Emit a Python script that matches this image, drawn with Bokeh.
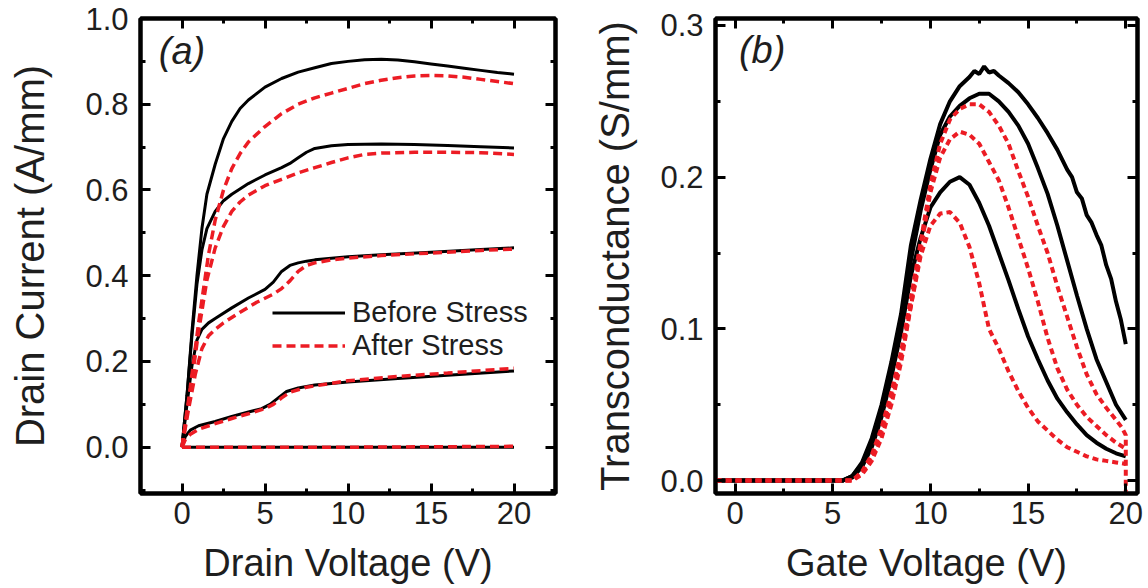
from bokeh.plotting import figure
from bokeh.layouts import row
from bokeh.models import (LinearAxis, SingleIntervalTicker, Range1d, Label,
                          Legend, LegendItem, PrintfTickFormatter, CustomJSTickFormatter)
from bokeh.embed import file_html
from bokeh.resources import INLINE

# ---------------- Panel (a): output characteristics ----------------
vd_b1 = [0, 0.3, 0.6, 0.9, 1.2, 1.5, 2, 2.5, 3, 3.5, 4, 5, 6, 7, 8, 9, 10, 11, 12, 13, 14, 15, 16, 17, 18, 19, 20]
id_b1 = [0, 0.12, 0.27, 0.40, 0.51, 0.59, 0.66, 0.72, 0.76, 0.79, 0.81, 0.84, 0.86, 0.875, 0.885, 0.895, 0.90, 0.904, 0.905, 0.903, 0.899, 0.894, 0.889, 0.884, 0.879, 0.874, 0.870]
vd_a1 = [0, 0.5, 1, 1.3, 1.6, 2, 2.5, 3, 3.5, 4, 5, 6, 7, 8, 9, 10, 11, 12, 13, 14, 15, 16, 17, 18, 19, 20]
id_a1 = [0, 0.14, 0.29, 0.37, 0.45, 0.53, 0.60, 0.65, 0.685, 0.712, 0.748, 0.778, 0.80, 0.815, 0.826, 0.837, 0.848, 0.856, 0.862, 0.866, 0.867, 0.866, 0.863, 0.858, 0.853, 0.848]

vd_b2 = [0, 0.3, 0.6, 0.9, 1.2, 1.5, 2, 2.5, 3, 4, 5, 6, 6.5, 7, 7.5, 8, 9, 10, 12, 14, 16, 18, 20]
id_b2 = [0, 0.12, 0.26, 0.38, 0.46, 0.51, 0.55, 0.575, 0.59, 0.615, 0.635, 0.652, 0.662, 0.675, 0.688, 0.697, 0.703, 0.706, 0.707, 0.706, 0.704, 0.701, 0.698]
vd_a2 = [0, 0.5, 1, 1.5, 2, 2.5, 3, 3.5, 4, 5, 6, 7, 8, 9, 10, 11, 12, 14, 16, 18, 20]
id_a2 = [0, 0.13, 0.27, 0.39, 0.465, 0.515, 0.55, 0.572, 0.588, 0.61, 0.625, 0.64, 0.652, 0.664, 0.675, 0.683, 0.686, 0.688, 0.688, 0.687, 0.683]

vd_b3 = [0, 0.3, 0.6, 0.9, 1.2, 1.6, 2, 3, 4, 5, 5.5, 6, 6.5, 7, 7.5, 8, 10, 12, 15, 18, 20]
id_b3 = [0, 0.1, 0.19, 0.25, 0.275, 0.29, 0.30, 0.325, 0.348, 0.368, 0.385, 0.41, 0.424, 0.43, 0.434, 0.437, 0.444, 0.449, 0.455, 0.461, 0.465]
vd_a3 = [0, 0.4, 0.8, 1.2, 1.6, 2, 2.5, 3.5, 4.5, 5.5, 6, 6.5, 7, 7.5, 8, 9, 10, 12, 15, 18, 20]
id_a3 = [0, 0.09, 0.17, 0.23, 0.26, 0.275, 0.29, 0.315, 0.338, 0.357, 0.37, 0.388, 0.41, 0.424, 0.43, 0.437, 0.441, 0.447, 0.453, 0.459, 0.462]

vd_b4 = [0, 0.2, 0.5, 1, 2, 3, 4, 4.8, 5.3, 5.8, 6.3, 7, 8, 10, 13, 16, 20]
id_b4 = [0, 0.025, 0.04, 0.05, 0.06, 0.072, 0.082, 0.09, 0.1, 0.115, 0.13, 0.138, 0.145, 0.152, 0.16, 0.168, 0.178]
vd_a4 = [0, 0.2, 0.5, 1, 2, 3, 4, 5, 5.5, 6, 6.5, 7.5, 10, 13, 16, 20]
id_a4 = [0, 0.018, 0.03, 0.042, 0.055, 0.067, 0.078, 0.09, 0.1, 0.115, 0.128, 0.14, 0.155, 0.165, 0.173, 0.184]

vd_b5 = [0, 20]
id_b5 = [0, 0]
vd_a5 = [0, 10, 20]
id_a5 = [0, 0, 0.002]

# ---------------- Panel (b): transconductance ----------------
vg_b1 = [-1, 5.5, 6.0, 6.5, 7.0, 7.5, 8.0, 8.5, 9.0, 9.5, 10.0, 10.5, 11.0, 11.5, 12.0, 12.25, 12.5, 12.75, 13.0, 13.25, 13.5, 14.0, 14.5, 15.0, 15.5, 16.0, 16.5, 17.0, 17.25, 17.5, 17.75, 18.0, 18.25, 18.5, 18.75, 19.0, 19.25, 19.5, 19.75, 20.0]
gm_b1 = [0, 0, 0.003, 0.012, 0.028, 0.05, 0.078, 0.11, 0.155, 0.185, 0.212, 0.235, 0.25, 0.26, 0.266, 0.27, 0.268, 0.273, 0.269, 0.27, 0.267, 0.262, 0.256, 0.248, 0.239, 0.229, 0.218, 0.205, 0.2, 0.19, 0.186, 0.175, 0.17, 0.162, 0.155, 0.142, 0.133, 0.118, 0.106, 0.09]
vg_b2 = [-1, 5.5, 6.0, 6.5, 7.0, 7.5, 8.0, 8.5, 9.0, 9.5, 10.0, 10.5, 11.0, 11.5, 12.0, 12.5, 13.0, 13.5, 14.0, 14.5, 15.0, 15.5, 16.0, 16.5, 17.0, 17.5, 18.0, 18.5, 19.0, 19.5, 20.0]
gm_b2 = [0, 0, 0.003, 0.011, 0.026, 0.048, 0.075, 0.105, 0.145, 0.178, 0.205, 0.228, 0.24, 0.247, 0.252, 0.255, 0.255, 0.25, 0.243, 0.234, 0.222, 0.206, 0.189, 0.168, 0.145, 0.122, 0.1, 0.08, 0.065, 0.05, 0.04]
vg_b3 = [-1, 5.5, 6.0, 6.5, 7.0, 7.5, 8.0, 8.5, 9.0, 9.5, 10.0, 10.5, 11.0, 11.5, 12.0, 12.5, 13.0, 13.5, 14.0, 14.5, 15.0, 15.5, 16.0, 16.5, 17.0, 17.5, 18.0, 18.5, 19.0, 19.5, 20.0]
gm_b3 = [0, 0, 0.002, 0.009, 0.022, 0.042, 0.068, 0.098, 0.135, 0.16, 0.18, 0.19, 0.197, 0.2, 0.195, 0.183, 0.168, 0.15, 0.132, 0.113, 0.095, 0.08, 0.066, 0.054, 0.045, 0.037, 0.03, 0.025, 0.021, 0.018, 0.016]

vg_a1 = [-1, 6.0, 6.5, 7.0, 7.5, 8.0, 8.5, 9.0, 9.5, 10.0, 10.5, 11.0, 11.5, 12.0, 12.5, 13.0, 13.5, 14.0, 14.5, 15.0, 15.5, 16.0, 16.5, 17.0, 17.5, 18.0, 18.5, 19.0, 19.5, 19.8, 20.0, 20.0]
gm_a1 = [0, 0, 0.006, 0.017, 0.035, 0.058, 0.085, 0.12, 0.157, 0.195, 0.222, 0.238, 0.245, 0.248, 0.248, 0.243, 0.234, 0.222, 0.204, 0.187, 0.168, 0.15, 0.128, 0.108, 0.088, 0.07, 0.057, 0.048, 0.04, 0.035, 0.03, -0.01]
vg_a2 = [-1, 6.0, 6.5, 7.0, 7.5, 8.0, 8.5, 9.0, 9.5, 10.0, 10.5, 11.0, 11.5, 12.0, 12.5, 13.0, 13.5, 14.0, 14.5, 15.0, 15.5, 16.0, 16.5, 17.0, 17.5, 18.0, 18.5, 19.0, 19.5, 20.0]
gm_a2 = [0, 0, 0.005, 0.015, 0.032, 0.055, 0.082, 0.115, 0.152, 0.19, 0.213, 0.225, 0.23, 0.228, 0.222, 0.21, 0.198, 0.18, 0.16, 0.14, 0.118, 0.094, 0.074, 0.06, 0.05, 0.042, 0.036, 0.03, 0.025, 0.021]
vg_a3 = [-1, 6.0, 6.5, 7.0, 7.5, 8.0, 8.5, 9.0, 9.5, 10.0, 10.5, 11.0, 11.5, 12.0, 12.5, 13.0, 13.5, 14.0, 14.5, 15.0, 15.5, 16.0, 16.5, 17.0, 17.5, 18.0, 18.5, 19.0, 19.5, 20.0]
gm_a3 = [0, 0, 0.004, 0.013, 0.028, 0.05, 0.078, 0.115, 0.148, 0.168, 0.176, 0.177, 0.17, 0.154, 0.13, 0.1, 0.087, 0.072, 0.059, 0.048, 0.039, 0.033, 0.027, 0.022, 0.019, 0.016, 0.014, 0.013, 0.012, 0.011]

legend_labels = ["Before Stress", "After Stress"]
panel_labels = ["(a)", "(b)"]
x_titles = ["Drain Voltage (V)", "Gate Voltage (V)"]
y_titles = ["Drain Current (A/mm)", "Transconductance (S/mm)"]

FONT = "Liberation Sans"
BLACK = "#000000"
RED = "#ec1c24"
TXT = "#1e1e1e"


def style_axis(ax, show_labels):
    ax.axis_line_width = 4
    ax.axis_line_color = BLACK
    ax.major_tick_in = 10
    ax.major_tick_out = 0
    ax.minor_tick_in = 5
    ax.minor_tick_out = 0
    ax.major_tick_line_width = 3
    ax.minor_tick_line_width = 3
    ax.major_tick_line_color = BLACK
    ax.minor_tick_line_color = BLACK
    ax.major_label_text_font = FONT
    ax.major_label_text_color = TXT
    ax.axis_label_text_font = FONT
    ax.axis_label_text_font_style = "normal"
    ax.axis_label_text_color = TXT
    if show_labels:
        ax.major_label_text_font_size = "31px"
    else:
        ax.formatter = CustomJSTickFormatter(code="return ''")
        ax.major_label_text_font_size = "0px"
        ax.major_label_standoff = 0


def make_fig(width, xr, yr, xint, yint, left, right, bottom, xlabel, ylabel, ylab_standoff):
    p = figure(width=width, height=588, output_backend="svg", toolbar_location=None,
               x_range=Range1d(*xr), y_range=Range1d(*yr), x_axis_type=None, y_axis_type=None,
               min_border_left=left, min_border_right=right, min_border_top=18,
               min_border_bottom=bottom)
    p.background_fill_color = "white"
    p.border_fill_color = "white"
    p.outline_line_color = BLACK
    p.outline_line_width = 4
    p.grid.visible = False
    xb = LinearAxis(ticker=SingleIntervalTicker(interval=xint, num_minor_ticks=2), axis_label=xlabel)
    style_axis(xb, True)
    xb.major_label_standoff = 8
    xb.axis_label_text_font_size = "38px"
    xb.axis_label_standoff = 15
    p.add_layout(xb, "below")
    xa = LinearAxis(ticker=SingleIntervalTicker(interval=xint, num_minor_ticks=2))
    style_axis(xa, False)
    p.add_layout(xa, "above")
    yl = LinearAxis(ticker=SingleIntervalTicker(interval=yint, num_minor_ticks=2),
                    axis_label=ylabel, formatter=PrintfTickFormatter(format="%.1f"))
    style_axis(yl, True)
    yl.major_label_standoff = 12
    yl.axis_label_text_font_size = "40px"
    yl.axis_label_standoff = ylab_standoff
    p.add_layout(yl, "left")
    yr_ax = LinearAxis(ticker=SingleIntervalTicker(interval=yint, num_minor_ticks=2))
    style_axis(yr_ax, False)
    p.add_layout(yr_ax, "right")
    return p


# ---- panel a
pa = make_fig(590, (-2.5, 22.5), (-0.108, 1.0), 5, 0.2, 140, 35, 91,
              x_titles[0], y_titles[0], 30)
before = [(vd_b1, id_b1), (vd_b2, id_b2), (vd_b3, id_b3), (vd_b4, id_b4), (vd_b5, id_b5)]
after = [(vd_a1, id_a1), (vd_a2, id_a2), (vd_a3, id_a3), (vd_a4, id_a4), (vd_a5, id_a5)]
rb = None
ra = None
for x, y in before:
    r = pa.line(x, y, line_color=BLACK, line_width=3)
    rb = rb or r
for x, y in after:
    r = pa.line(x, y, line_color=RED, line_width=3.5, line_dash="9 5")
    ra = ra or r
leg = Legend(items=[LegendItem(label=legend_labels[0], renderers=[rb]),
                    LegendItem(label=legend_labels[1], renderers=[ra])],
             location=(132, 131), orientation="vertical",
             glyph_width=73, glyph_height=27, label_height=27, label_standoff=7,
             spacing=0, padding=0, margin=0,
             label_text_font=FONT, label_text_font_size="29px", label_text_color=TXT,
             border_line_color=None, background_fill_alpha=0)
pa.add_layout(leg, "center")
pa.add_layout(Label(x=-1.4, y=0.925, text=panel_labels[0], text_font=FONT,
                    text_font_style="italic", text_font_size="38px",
                    text_baseline="middle", text_color=TXT))

# ---- panel b
pb = make_fig(558, (-1.0, 20.6), (-0.0085, 0.3046), 5, 0.1, 124, 11, 95,
              x_titles[1], y_titles[1], 20)
for x, y in [(vg_b1, gm_b1), (vg_b2, gm_b2), (vg_b3, gm_b3)]:
    pb.line(x, y, line_color=BLACK, line_width=4)
for x, y in [(vg_a1, gm_a1), (vg_a2, gm_a2), (vg_a3, gm_a3)]:
    pb.line(x, y, line_color=RED, line_width=4, line_dash="6 4")
pb.add_layout(Label(x=0.2, y=0.284, text=panel_labels[1], text_font=FONT,
                    text_font_style="italic", text_font_size="38px",
                    text_baseline="middle", text_color=TXT))

layout = row(pa, pb, spacing=0)
open("out.html", "w").write(file_html(layout, INLINE))
